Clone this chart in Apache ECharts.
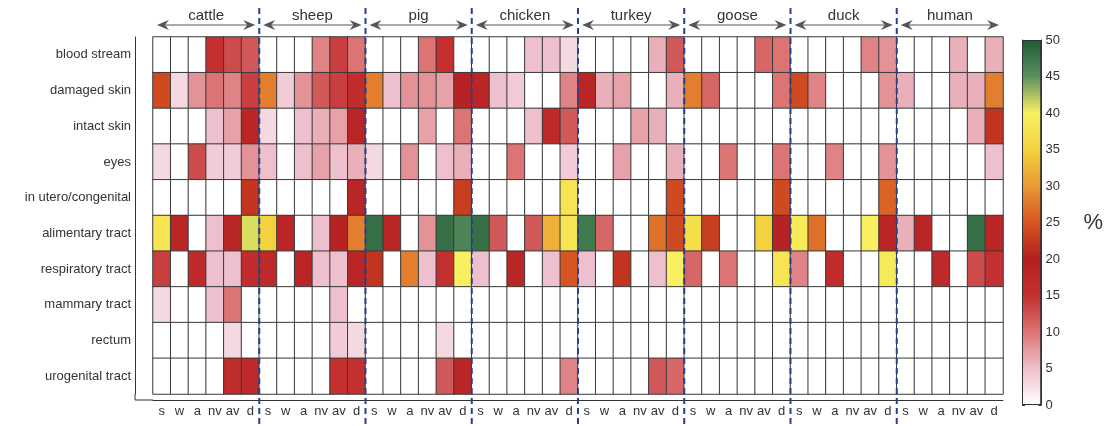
<!DOCTYPE html>
<html>
<head>
<meta charset="utf-8">
<script src="https://cdn.jsdelivr.net/npm/echarts@6/dist/echarts.min.js"></script>
<style>
  html, body { margin: 0; padding: 0; background: #fff; }
  #main { width: 1105px; height: 426px; }
</style>
</head>
<body>
<div id="main"></div>
<script>
// rows of the heatmap, top to bottom
var routes = ['blood stream', 'damaged skin', 'intact skin', 'eyes', 'in utero/congenital',
  'alimentary tract', 'respiratory tract', 'mammary tract', 'rectum', 'urogenital tract'];
var hosts = ['cattle', 'sheep', 'pig', 'chicken', 'turkey', 'goose', 'duck', 'human'];
var subCols = ['s', 'w', 'a', 'nv', 'av', 'd'];

// % per route (row) and sub column s w a nv av d
var cattle = [
  [0, 0, 0, 15, 13, 12], [24, 3, 8, 10, 9, 14], [0, 0, 0, 5, 7, 18], [3, 0, 13, 4, 4, 8], [0, 0, 0, 0, 0, 22],
  [38, 18, 0, 5, 18, 41], [14, 0, 17, 5, 5, 16], [3, 0, 0, 5, 10, 0], [0, 0, 0, 0, 3, 0], [0, 0, 0, 0, 16, 17]
];
var sheep = [
  [0, 0, 0, 9, 14, 10], [28, 4, 8, 12, 14, 16], [3, 0, 5, 6, 7, 18], [5, 0, 5, 7, 5, 6], [0, 0, 0, 0, 0, 18],
  [35, 18, 0, 5, 19, 28], [17, 0, 18, 5, 5, 18], [0, 0, 0, 0, 5, 0], [0, 0, 0, 0, 4, 3], [0, 0, 0, 0, 15, 15]
];
var pig = [
  [0, 0, 0, 10, 15, 0], [28, 5, 8, 8, 7, 19], [0, 0, 0, 7, 0, 10], [3, 0, 8, 0, 5, 6], [0, 0, 0, 0, 0, 23],
  [48, 18, 0, 8, 48, 46], [22, 0, 28, 5, 15, 40], [0, 0, 0, 0, 0, 0], [0, 0, 0, 0, 3, 0], [0, 0, 0, 0, 12, 18]
];
var chicken = [
  [0, 0, 0, 5, 5, 3], [18, 5, 4, 0, 0, 9], [0, 0, 0, 5, 17, 12], [0, 0, 10, 0, 0, 4], [0, 0, 0, 0, 0, 38],
  [48, 12, 0, 12, 32, 38], [5, 0, 18, 0, 5, 25], [0, 0, 0, 0, 0, 0], [0, 0, 0, 0, 0, 0], [0, 0, 0, 0, 0, 9]
];
var turkey = [
  [0, 0, 0, 0, 6, 12], [18, 6, 7, 0, 0, 6], [0, 0, 0, 7, 6, 0], [0, 0, 7, 0, 0, 6], [0, 0, 0, 0, 0, 24],
  [47, 11, 0, 0, 27, 24], [5, 0, 22, 0, 5, 40], [0, 0, 0, 0, 0, 0], [0, 0, 0, 0, 0, 0], [0, 0, 0, 0, 12, 11]
];
var goose = [
  [0, 0, 0, 0, 11, 10], [28, 11, 0, 0, 0, 10], [0, 0, 0, 0, 0, 0], [0, 0, 10, 0, 0, 10], [0, 0, 0, 0, 0, 24],
  [37, 23, 0, 0, 35, 19], [11, 0, 10, 0, 0, 38], [0, 0, 0, 0, 0, 0], [0, 0, 0, 0, 0, 0], [0, 0, 0, 0, 0, 0]
];
var duck = [
  [0, 0, 0, 0, 9, 8], [24, 9, 0, 0, 0, 8], [0, 0, 0, 0, 0, 0], [0, 0, 9, 0, 0, 8], [0, 0, 0, 0, 0, 26],
  [39, 27, 0, 0, 40, 18], [9, 0, 16, 0, 0, 39], [0, 0, 0, 0, 0, 0], [0, 0, 0, 0, 0, 0], [0, 0, 0, 0, 0, 0]
];
var human = [
  [0, 0, 0, 6, 0, 6], [6, 0, 0, 6, 6, 28], [0, 0, 0, 0, 6, 22], [0, 0, 0, 0, 0, 5], [0, 0, 0, 0, 0, 0],
  [6, 18, 0, 0, 48, 18], [0, 0, 17, 0, 13, 15], [0, 0, 0, 0, 0, 0], [0, 0, 0, 0, 0, 0], [0, 0, 0, 0, 0, 0]
];
var hostData = [cattle, sheep, pig, chicken, turkey, goose, duck, human];

// colour bar ticks 0..50
var scaleMin = 0, scaleMax = 50, scaleStep = 5;
var scaleColors = ['#ffffff', '#eebfcc', '#dc7474', '#c43030', '#b41e1e', '#d65522',
  '#ea9a34', '#f3d23e', '#f8f060', '#5a9060', '#1f5a36'];

var xLabels = [];
var cells = [];
hosts.forEach(function (h, hi) {
  subCols.forEach(function (s, si) {
    xLabels.push(s);
    for (var r = 0; r < routes.length; r++) {
      cells.push([hi * subCols.length + si, r, hostData[hi][r][si]]);
    }
  });
});

var font = 'Liberation Sans, Arial, sans-serif';
var txt = '#333';

var gradStops = scaleColors.map(function (c, i) {
  return { offset: i / (scaleColors.length - 1), color: c };
});

var option = {
  backgroundColor: '#fff',
  animation: false,
  grid: [
    { left: 153, top: 37, width: 850, height: 357 },
    { left: 1022, top: 40, width: 24, height: 365 }
  ],
  xAxis: [
    {
      type: 'category', gridIndex: 0, data: xLabels, position: 'bottom', offset: 6,
      axisLine: { lineStyle: { color: txt } },
      axisTick: { inside: true, length: 6, alignWithLabel: true, interval: 0, lineStyle: { color: txt } },
      axisLabel: { interval: 0, color: txt, fontFamily: font, fontSize: 13, margin: 5 },
      splitLine: { show: false }
    },
    {
      type: 'category', gridIndex: 0, data: hosts, position: 'top',
      axisLine: { show: false }, axisTick: { show: false },
      axisLabel: { interval: 0, color: txt, fontFamily: font, fontSize: 15, margin: 14 }
    },
    {
      type: 'category', gridIndex: 1, data: ['%'], show: false
    }
  ],
  yAxis: [
    {
      type: 'category', gridIndex: 0, data: routes, inverse: true, offset: 18,
      axisLine: { lineStyle: { color: txt } },
      axisTick: { inside: true, length: 18, alignWithLabel: true, lineStyle: { color: txt } },
      axisLabel: { color: txt, fontFamily: font, fontSize: 13, margin: 4 }
    },
    {
      type: 'value', gridIndex: 1, min: scaleMin, max: scaleMax, interval: scaleStep, position: 'right',
      name: '%', nameLocation: 'middle', nameRotate: 0, nameGap: 42,
      nameTextStyle: { color: txt, fontFamily: font, fontSize: 22 },
      axisLine: { show: true, lineStyle: { color: txt } },
      axisTick: { show: true, inside: true, length: 3, lineStyle: { color: txt } },
      axisLabel: { color: txt, fontFamily: font, fontSize: 13, margin: 4 },
      splitLine: { show: false }
    },
    {
      type: 'value', gridIndex: 1, min: scaleMin, max: scaleMax, interval: scaleStep, position: 'left',
      axisLine: { show: true, lineStyle: { color: txt } },
      axisTick: { show: true, inside: true, length: 3, lineStyle: { color: txt } },
      axisLabel: { show: false },
      splitLine: { show: false }
    }
  ],
  visualMap: {
    show: false, type: 'continuous', min: scaleMin, max: scaleMax, seriesIndex: 0,
    inRange: { color: scaleColors }
  },
  series: [
    {
      type: 'heatmap', xAxisIndex: 0, yAxisIndex: 0, data: cells, silent: true,
      itemStyle: { borderColor: '#3a3a3a', borderWidth: 1 },
      emphasis: { disabled: true }
    },
    {
      type: 'bar', xAxisIndex: 2, yAxisIndex: 1, data: [scaleMax], barWidth: '100%', silent: true,
      z: 1,
      itemStyle: {
        color: new echarts.graphic.LinearGradient(0, 1, 0, 0, gradStops),
        borderColor: txt, borderWidth: 1
      }
    }
  ]
};

var chart = echarts.init(document.getElementById('main'));
chart.setOption(option);

// group separators and arrows, placed from the axis scale
var c0 = chart.convertToPixel({ xAxisIndex: 0 }, 0);
var c1 = chart.convertToPixel({ xAxisIndex: 0 }, 1);
var cw = c1 - c0;
var gx0 = c0 - cw / 2;
var groupW = cw * subCols.length;
var r0 = chart.convertToPixel({ yAxisIndex: 0 }, 0);
var r1 = chart.convertToPixel({ yAxisIndex: 0 }, 1);
var rh = r1 - r0;
var gBottom = r0 - rh / 2 + rh * routes.length;
var axX = gx0 - 18, axY = gBottom + 6;
var arrowY = 25;
var arrowCol = '#555';
var sepCol = '#2a3f8f';
var gfx = [];

// close the corner between the two offset axes
gfx.push({ type: 'polyline', shape: { points: [[axX, gBottom], [axX, axY], [gx0, axY]] }, style: { stroke: txt, lineWidth: 1, fill: null }, silent: true });

for (var g = 0; g < hosts.length; g++) {
  var L = gx0 + g * groupW + 4;
  var R = gx0 + (g + 1) * groupW - 4;
  gfx.push({ type: 'line', shape: { x1: L + 6, y1: arrowY, x2: R - 6, y2: arrowY }, style: { stroke: arrowCol, lineWidth: 1 }, silent: true });
  gfx.push({ type: 'polygon', shape: { points: [[L, arrowY], [L + 12, arrowY - 5], [L + 8, arrowY], [L + 12, arrowY + 5]] }, style: { fill: arrowCol }, silent: true });
  gfx.push({ type: 'polygon', shape: { points: [[R, arrowY], [R - 12, arrowY - 5], [R - 8, arrowY], [R - 12, arrowY + 5]] }, style: { fill: arrowCol }, silent: true });
  if (g > 0) {
    var sx = gx0 + g * groupW;
    gfx.push({ type: 'line', z: 100, shape: { x1: sx, y1: 8, x2: sx, y2: 426 }, style: { stroke: sepCol, lineWidth: 2, lineDash: [6, 4] }, silent: true });
  }
}
chart.setOption({ graphic: gfx });
</script>
</body>
</html>
